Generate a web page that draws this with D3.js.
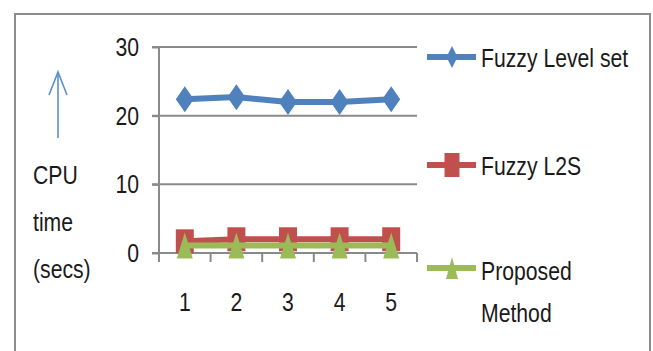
<!DOCTYPE html>
<html>
<head>
<meta charset="utf-8">
<script src="https://cdn.jsdelivr.net/npm/d3@7"></script>
<style>
  html, body { margin: 0; padding: 0; background: #fff; }
  svg text { font-family: "Liberation Sans", Arial, sans-serif; fill: #1a1a1a; }
</style>
</head>
<body>
<svg id="chart" width="653" height="351"></svg>
<script>
// Runs (x categories) and CPU time in seconds for each method
const categories = [1, 2, 3, 4, 5];
const fuzzyLevelSet = [22.4, 22.7, 22.0, 22.0, 22.4];
const fuzzyL2S = [1.7, 2.0, 2.0, 2.0, 2.0];
const proposedMethod = [1.1, 1.1, 1.1, 1.1, 1.1];
const yTicks = [0, 10, 20, 30];
const seriesNames = ["Fuzzy Level set", "Fuzzy L2S", "Proposed Method"];
const axisTitle = ["CPU", "time", "(secs)"];

const colors = ["#4f81bd", "#c0504d", "#9bbb59"];
const series = [fuzzyLevelSet, fuzzyL2S, proposedMethod];
const FONT = 26.5, SX = 0.8;

const svg = d3.select("#chart");

// outer chart frame
svg.append("rect")
  .attr("x", 15).attr("y", 14).attr("width", 635).attr("height", 360)
  .attr("fill", "none").attr("stroke", "#8c8c8c").attr("stroke-width", 2);

const x = d3.scaleBand().domain(categories).range([159, 417]);
const y = d3.scaleLinear().domain([0, 30]).range([253, 47]);
const cx = d => x(d) + x.bandwidth() / 2;

// condensed text helper
function label(g, txt, px, py, anchor) {
  return g.append("text")
    .attr("transform", `translate(${px},${py}) scale(${SX},1)`)
    .attr("text-anchor", anchor || "start")
    .attr("font-size", FONT)
    .text(txt);
}

// horizontal gridlines with left tick stubs
const grid = svg.append("g");
grid.selectAll("line").data(yTicks.filter(t => t > 0)).join("line")
  .attr("x1", 152).attr("x2", 417)
  .attr("y1", d => y(d)).attr("y2", d => y(d))
  .attr("stroke", "#8a8a8a").attr("stroke-width", 2);

// y axis
const yAxis = svg.append("g")
  .attr("transform", "translate(159,0)")
  .call(d3.axisLeft(y).tickValues(yTicks).tickSize(7).tickFormat(""));
yAxis.select(".domain").attr("stroke", "#8a8a8a").attr("stroke-width", 2)
  .attr("d", `M0,${y(30)}V${y(0) + 9}`);
yAxis.selectAll(".tick line").attr("stroke", "#8a8a8a").attr("stroke-width", 2);

yTicks.forEach(t => label(svg, String(t), 139, y(t) + 9, "end"));

// x axis with tick marks at band boundaries
svg.append("line").attr("x1", 152).attr("x2", 417)
  .attr("y1", y(0)).attr("y2", y(0))
  .attr("stroke", "#8a8a8a").attr("stroke-width", 2);
const bounds = categories.map(c => x(c)).concat([x.range()[1]]);
svg.append("g").selectAll("line").data(bounds).join("line")
  .attr("x1", d => d).attr("x2", d => d)
  .attr("y1", y(0)).attr("y2", y(0) + 9)
  .attr("stroke", "#8a8a8a").attr("stroke-width", 2);
categories.forEach(c => label(svg, String(c), cx(c), 311, "middle"));

// marker shapes
function markerPath(kind, w, h) {
  const a = w / 2, b = h / 2;
  if (kind === 0) return `M0,${-b}L${a},0L0,${b}L${-a},0Z`;
  if (kind === 1) return `M${-a},${-b}H${a}V${b}H${-a}Z`;
  return `M0,${-b}L${a},${b}H${-a}Z`;
}
const plotSizes = [[18, 26], [18, 24], [16, 26]];
const legendSizes = [[11, 22], [15, 24], [12, 22]];

// series lines and markers
const line = d3.line().x((d, i) => cx(categories[i])).y(d => y(d));
series.forEach((vals, s) => {
  const g = svg.append("g");
  g.append("path").datum(vals)
    .attr("d", line).attr("fill", "none")
    .attr("stroke", colors[s]).attr("stroke-width", 6);
  g.selectAll("path.m").data(vals).join("path").attr("class", "m")
    .attr("transform", (d, i) => `translate(${cx(categories[i])},${y(d)})`)
    .attr("d", markerPath(s, plotSizes[s][0], plotSizes[s][1]))
    .attr("fill", colors[s]);
});

// legend
const legendY = [57, 165, 268];
seriesNames.forEach((name, s) => {
  const g = svg.append("g");
  g.append("line").attr("x1", 427).attr("x2", 476)
    .attr("y1", legendY[s]).attr("y2", legendY[s])
    .attr("stroke", colors[s]).attr("stroke-width", 6);
  g.append("path")
    .attr("transform", `translate(452,${legendY[s]})`)
    .attr("d", markerPath(s, legendSizes[s][0], legendSizes[s][1]))
    .attr("fill", colors[s]);
  if (s === 2) {
    const parts = name.split(" ");
    label(g, parts[0], 481, legendY[s] + 12);
    label(g, parts[1], 481, legendY[s] + 54);
  } else {
    label(g, name, 481, legendY[s] + 10);
  }
});

// axis title with upward arrow
const arrow = svg.append("g").attr("stroke", "#5b8fd0").attr("stroke-width", 1.6).attr("fill", "none");
arrow.append("line").attr("x1", 58).attr("x2", 58).attr("y1", 138).attr("y2", 72);
arrow.append("path").attr("d", "M49,95L58,72L67,95");
axisTitle.forEach((t, i) => label(svg, t, 33, 184 + i * 47));
</script>
</body>
</html>
